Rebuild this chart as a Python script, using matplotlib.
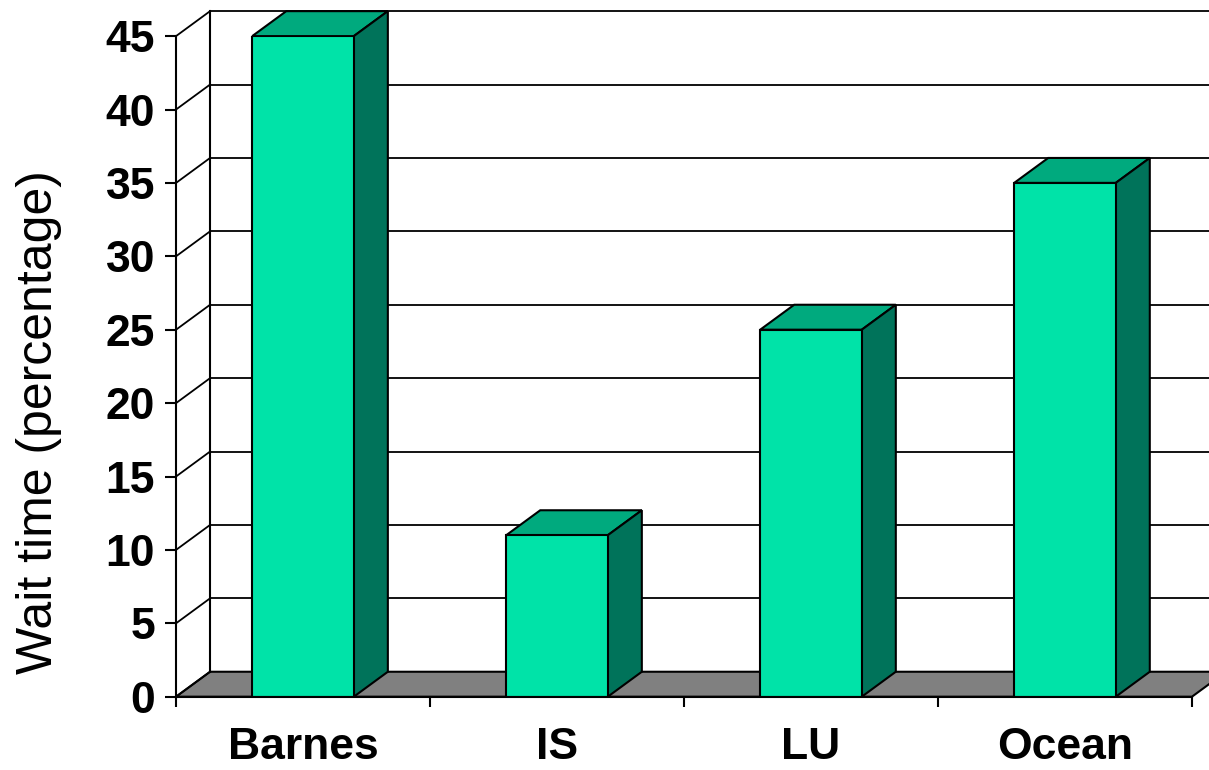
import matplotlib
matplotlib.use('Agg')
import matplotlib.pyplot as plt
from matplotlib.patches import Polygon

# wait time per site
sites = ['Barnes', 'IS', 'LU', 'Ocean']
wait_pct = [45, 11, 25, 35]
yticks = list(range(0, 50, 5))

front_c = '#00E3A8'
top_c = '#00AA7E'
side_c = '#00735A'
floor_c = '#808080'

plt.rcParams['font.family'] = ['Liberation Sans', 'DejaVu Sans']

fig = plt.figure(figsize=(12.09, 7.70), dpi=100)
ax = fig.add_axes([0.1456, 0.0952, 0.8403, 0.8579])
ax.set_xlim(-0.5, 3.5)
ax.set_ylim(0, 45)

# depth of the 3d box in data units
dx, dy = 0.134, 1.70
x0, x1 = -0.5, 3.5

# floor
floor = Polygon([(x0, 0), (x1, 0), (x1 + dx, dy), (x0 + dx, dy)], closed=True,
                facecolor=floor_c, edgecolor='black', lw=1.5, clip_on=False, zorder=1)
ax.add_patch(floor)

# back wall gridlines + side wall diagonals
for v in yticks:
    if v > 0:
        ax.plot([x0 + dx, x1 + dx], [v + dy, v + dy], color='black', lw=1.3,
                clip_on=False, zorder=2)
    ax.plot([x0, x0 + dx], [v, v + dy], color='black', lw=1.3, clip_on=False, zorder=2)
ax.plot([x0 + dx, x0 + dx], [dy, 45 + dy], color='black', lw=1.5, clip_on=False, zorder=2)

# bars
w = 0.4
xs = range(len(sites))
ax.bar(xs, wait_pct, width=w, color=front_c, edgecolor='black', lw=1.5, zorder=5)
for x, v in zip(xs, wait_pct):
    l, r = x - w / 2, x + w / 2
    top = Polygon([(l, v), (r, v), (r + dx, v + dy), (l + dx, v + dy)], closed=True,
                  facecolor=top_c, edgecolor='black', lw=1.5, clip_on=False, zorder=4)
    side = Polygon([(r, 0), (r + dx, dy), (r + dx, v + dy), (r, v)], closed=True,
                   facecolor=side_c, edgecolor='black', lw=1.5, clip_on=False, zorder=4)
    ax.add_patch(top)
    ax.add_patch(side)

for s in ['top', 'right']:
    ax.spines[s].set_visible(False)
for s in ['left', 'bottom']:
    ax.spines[s].set_linewidth(1.5)
    ax.spines[s].set_zorder(6)

ax.set_yticks(yticks)
ax.set_yticklabels([str(t) for t in yticks], fontsize=32, fontweight='bold')
ax.tick_params(axis='y', direction='out', length=8, width=1.5, pad=7)

ax.set_xticks([-0.5, 0.5, 1.5, 2.5, 3.5])
ax.set_xticklabels([])
ax.set_xticks(list(xs), minor=True)
ax.set_xticklabels(sites, minor=True, fontsize=32, fontweight='bold')
ax.tick_params(axis='x', which='major', direction='out', length=7, width=1.5)
ax.tick_params(axis='x', which='minor', length=0, pad=22)

ax.set_ylabel('Wait time (percentage)', fontsize=36)
ax.yaxis.set_label_coords(-0.112, 0.415)

fig.savefig('out.png', dpi=100)
